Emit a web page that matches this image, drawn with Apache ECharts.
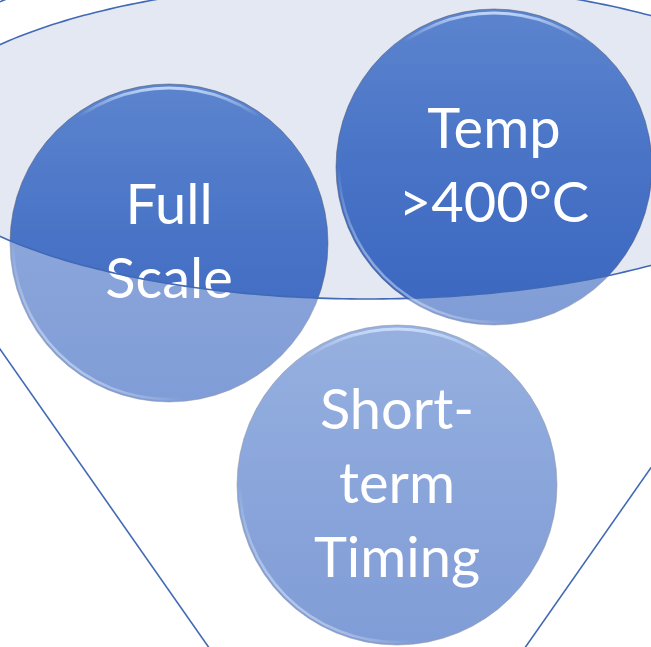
<!DOCTYPE html>
<html>
<head>
<meta charset="utf-8">
<script src="https://cdn.jsdelivr.net/npm/echarts@6/dist/echarts.min.js"></script>
<style>html,body{margin:0;padding:0;background:#fff;}#c{width:651px;height:647px;}</style>
</head>
<body>
<div id="c"></div>
<script>
// ---- content ----
const circleLabels = ['Full\nScale', 'Temp\n>400°C', 'Short-\nterm\nTiming'];
// ---- layout (diagram geometry, in axis units = pixels) ----
const circleCenters = [[169, 243], [494, 167], [397, 485]];
const circleRadii = [159, 158, 160];
const rimCenter = [367, 140.5];
const rimInnerRadii = [461, 158.5];
const rimOuterRadii = [505, 202];
const funnelBottomPoints = [[208.5, 647], [525.5, 647]];
const funnelSlope = 0.70;

const W = 651, H = 647;
const chart = echarts.init(document.getElementById('c'), null, {renderer: 'canvas'});

function ellipsePts(rx, ry, from, to, n) {
  const pts = [];
  for (let i = 0; i <= n; i++) {
    const t = from + (to - from) * i / n;
    pts.push([rimCenter[0] + rx * Math.cos(t), rimCenter[1] + ry * Math.sin(t)]);
  }
  return pts;
}
const lineColor = '#4169B4';

function bgRender(params, api) {
  const inner = ellipsePts(rimInnerRadii[0], rimInnerRadii[1], 0, Math.PI * 2, 360).map(p => api.coord(p));
  return {
    type: 'group',
    children: [
      {type: 'polygon', shape: {points: inner}, style: {fill: '#E4E8F2', stroke: null}}
    ]
  };
}

function topRender(params, api) {
  const hole = [[-300, -300], [951, -300], [951, 947], [-300, 947], [-300, rimCenter[1]]]
    .concat(ellipsePts(rimInnerRadii[0], rimInnerRadii[1], Math.PI, -Math.PI, 360))
    .concat([[-300, rimCenter[1]]]).map(p => api.coord(p));
  const inner = ellipsePts(rimInnerRadii[0], rimInnerRadii[1], 0, Math.PI * 2, 360).map(p => api.coord(p));
  const outerTop = ellipsePts(rimOuterRadii[0], rimOuterRadii[1], Math.PI * 0.92, Math.PI * 2.08, 240).map(p => api.coord(p));
  const children = [
    {type: 'polygon', shape: {points: hole}, style: {fill: 'rgba(255,255,255,0.36)', stroke: null}},
    {type: 'polyline', shape: {points: inner}, style: {fill: null, stroke: lineColor, lineWidth: 1.6}},
    {type: 'polyline', shape: {points: outerTop}, style: {fill: null, stroke: lineColor, lineWidth: 1.6}}
  ];
  funnelBottomPoints.forEach((b, i) => {
    const dir = i === 0 ? -1 : 1;
    const y1 = 250, y2 = 760;
    const p1 = api.coord([b[0] + dir * funnelSlope * (b[1] - y1), y1]);
    const p2 = api.coord([b[0] + dir * funnelSlope * (b[1] - y2), y2]);
    children.push({type: 'line', shape: {x1: p1[0], y1: p1[1], x2: p2[0], y2: p2[1]},
      style: {stroke: lineColor, lineWidth: 1.6}});
  });
  circleCenters.forEach((c, i) => {
    const p = api.coord(c);
    const r = circleRadii[i];
    children.push({type: 'circle', shape: {cx: p[0], cy: p[1], r: r - 4}, silent: true,
      style: {fill: null, lineWidth: 3,
        stroke: new echarts.graphic.LinearGradient(0, 0, 0, 1, [
          {offset: 0, color: 'rgba(210,228,255,0.9)'},
          {offset: 0.1, color: 'rgba(210,228,255,0.0)'},
          {offset: 1, color: 'rgba(210,228,255,0.0)'}])}});
    children.push({type: 'circle', shape: {cx: p[0], cy: p[1], r: r - 3}, silent: true,
      style: {fill: null, lineWidth: 2.5,
        stroke: new echarts.graphic.LinearGradient(0, 0.85, 0.6, 0.2, [
          {offset: 0, color: 'rgba(235,245,255,0.75)'},
          {offset: 0.3, color: 'rgba(235,245,255,0.0)'},
          {offset: 1, color: 'rgba(235,245,255,0.0)'}])}});
  });
  return {type: 'group', children: children};
}

const option = {
  backgroundColor: '#ffffff',
  animation: false,
  grid: {left: 0, right: 0, top: 0, bottom: 0},
  xAxis: {type: 'value', min: 0, max: W, show: false},
  yAxis: {type: 'value', min: 0, max: H, inverse: true, show: false},
  series: [
    {type: 'custom', z: 1, clip: false, silent: true, renderItem: bgRender, data: [0]},
    {
      type: 'scatter', z: 2, symbol: 'circle', silent: true,
      data: circleCenters.map((c, i) => ({
        value: c, symbolSize: circleRadii[i] * 2,
        label: {formatter: circleLabels[i]}
      })),
      itemStyle: {
        opacity: 1,
        color: new echarts.graphic.LinearGradient(0, 0, 0, 1, [
          {offset: 0, color: '#5C84CE'},
          {offset: 0.5, color: '#4873C6'},
          {offset: 1, color: '#3A66C0'}]),
        borderColor: 'rgba(80,90,115,0.55)', borderWidth: 1
      },
      label: {
        show: true, position: 'inside', color: '#ffffff',
        fontFamily: 'Lato', fontSize: 56, lineHeight: 74, align: 'center', verticalAlign: 'middle'
      }
    },
    {type: 'custom', z: 3, clip: false, silent: true, renderItem: topRender, data: [0]}
  ]
};
chart.setOption(option);
</script>
</body>
</html>
